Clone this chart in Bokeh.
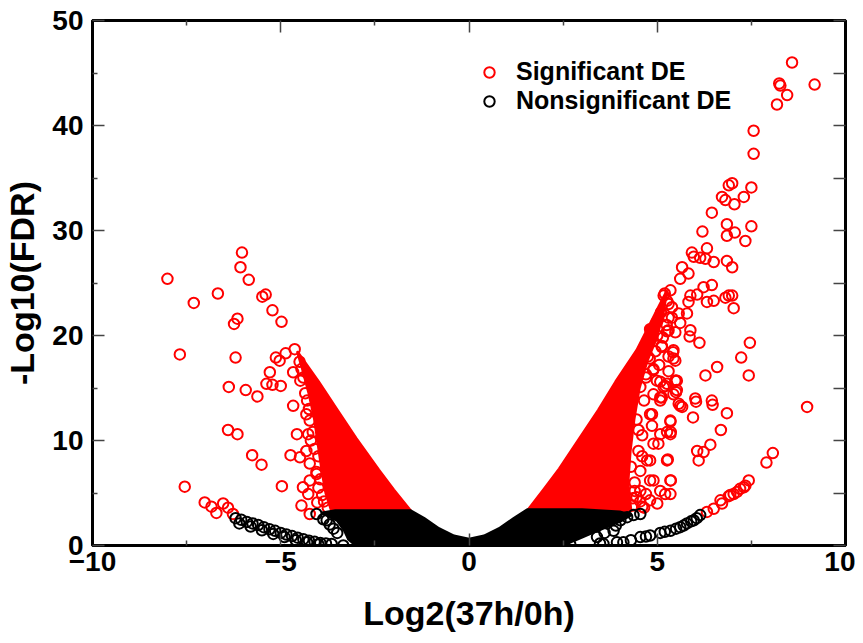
from bokeh.plotting import figure
from bokeh.models import LinearAxis, FixedTicker, Legend, LegendItem, Range1d
from bokeh.embed import file_html
from bokeh.resources import INLINE

FONT = "Liberation Sans"

x_ticks = [-10, -5, 0, 5, 10]
x_minor = [-7.5, -2.5, 2.5, 7.5]
y_ticks = [0, 10, 20, 30, 40, 50]
y_minor = [5, 15, 25, 35, 45]
y_right_ticks = [0, 5, 10, 15, 20, 25, 30, 35, 40, 45, 50]

# Significant DE (red) - individually visible points
sig_x = [
    -6.03, -6.07, -5.85, -8.01, -7.31, -6.67, -5.49, -5.40, -5.22, -4.98, -6.15, -6.24,
    -7.68, -6.2, -6.38, -5.93, -5.62, -5.29, -5.38, -5.22, -5.0, -5.13, -5.03, -4.87,
    -4.63, -4.67, -4.48, -4.67, -6.4, -6.15, -4.57, -5.76, -5.51, -4.74, -4.49, -7.55,
    -4.97, -7.02, -6.84, -6.71, -6.53, -6.4, -6.27, -4.41, -4.27, -4.03, -4.45, -4.23,
    -4.32, -4.23, -4.27, -4.32, -4.23, -4.05, -4.23,
    -4.5, -4.45, -4.4, -4.35, -4.3, -4.25, -4.15, -4.2, -4.1, -4.0, -4.05, -3.95, -4.0,
    -3.9, -3.85, -3.75,
    8.58, 8.24, 8.27, 9.18, 8.45, 8.18, 7.56, 7.56, 6.9, 6.99, 7.5, 7.3, 6.72, 6.81,
    7.05, 6.45, 7.5, 6.85, 6.85, 7.06, 7.34, 6.2, 6.32, 5.92, 5.97, 6.14, 6.28, 6.5,
    6.85, 6.99, 5.66, 5.83, 5.61, 6.45, 6.23, 5.35, 5.17, 5.88, 6.06, 6.9, 6.99,
    5.83, 6.32, 6.5, 6.81, 7.03, 5.79, 5.57, 5.61, 5.3, 5.39, 5.26, 5.48, 5.88, 5.86,
    6.12, 4.84, 4.99, 5.12, 5.42, 5.43, 4.89, 5.48, 5.52, 5.17, 4.99, 7.46, 7.23, 7.43,
    6.59, 6.28, 6.01, 6.45,
    5.5, 5.5, 5.08, 5.21, 5.12, 6.03, 5.66, 6.47, 6.85, 5.95, 8.98, 5.35, 4.86, 4.86,
    6.69, 5.08, 5.26, 5.36, 5.03, 6.41, 6.23, 6.06, 6.1, 8.07, 7.9, 5.28, 4.81, 5.36,
    4.81, 5.08, 5.21,
    6.32, 6.5, 6.72, 6.94, 7.12, 7.3, 7.43, 6.68, 6.9, 7.03, 7.2, 7.34,
    4.55, 4.9, 5.08, 4.81, 5.35, 5.35, 4.9, 5.26, 4.73, 4.55, 4.9, 5.35, 5.35, 4.55,
    4.81, 5.43, 5.61,
    5.26, 5.39, 4.81, 5.3, 5.12, 5.43, 5.48, 4.9, 5.26, 5.52, 5.08, 5.57,
    4.35, 4.45, 4.6, 4.7, 4.4, 4.5, 4.6, 4.45, 4.65, 4.7, 4.75, 5.0,
    5.2, 5.3, 5.1, 5.25, 5.0, 5.15, 4.95, 5.3, 4.8, 5.05, 4.7, 5.3,
    4.5, 4.3, 4.6, 4.4, 4.55, 4.35, 4.65,
]
sig_y = [
    27.9, 26.5, 25.3, 25.4, 23.1, 24.0, 23.7, 23.9, 22.4, 21.3, 21.6, 21.1,
    18.2, 17.9, 15.1, 14.8, 14.2, 16.5, 15.4, 15.3, 15.2, 17.9, 17.6, 18.3,
    18.7, 16.5, 15.7, 13.3, 11.0, 10.6, 10.6, 8.6, 7.7, 8.6, 8.4, 5.6,
    5.65, 4.1, 3.7, 3.1, 4.0, 3.6, 3.0, 5.55, 4.9, 4.1, 3.8, 3.0,
    12.5, 11.9, 10.6, 9.0, 7.8, 6.8, 6.2,
    17.5, 16.8, 16.0, 14.5, 13.8, 13.0, 10.8, 10.0, 9.2, 8.5, 7.0, 6.3, 5.5,
    4.8, 4.2, 3.6,
    46.0, 44.0, 43.8, 43.9, 42.9, 42.0, 39.5, 37.3, 34.3, 34.5, 34.1, 33.2, 33.2, 32.9,
    32.5, 31.7, 30.4, 30.6, 29.5, 29.8, 29.0, 29.9, 28.3, 27.9, 27.5, 27.4, 27.3, 27.0,
    27.1, 26.5, 26.5, 25.9, 25.4, 24.8, 24.6, 24.3, 23.8, 23.8, 23.9, 23.8, 23.8,
    23.2, 23.2, 23.3, 23.6, 22.6, 22.1, 22.1, 21.2, 21.7, 22.7, 20.4, 20.3, 20.5, 19.9,
    19.3, 20.6, 21.3, 19.0, 18.4, 17.8, 16.7, 15.7, 14.8, 15.1, 15.7, 19.3, 17.9, 16.2,
    17.0, 16.2, 14.0, 13.8,
    15.7, 14.6, 15.6, 15.2, 14.1, 13.7, 13.2, 13.4, 12.6, 12.2, 13.2, 11.8, 12.5, 11.4,
    11.0, 10.6, 10.8, 10.8, 9.7, 9.6, 8.9, 9.0, 8.1, 8.8, 7.9, 8.2, 8.1, 6.2,
    6.2, 5.2, 4.9,
    3.2, 3.5, 4.0, 4.8, 5.1, 5.55, 6.2, 4.3, 4.7, 4.9, 5.4, 5.7,
    15.1, 14.4, 13.8, 12.5, 11.9, 10.6, 9.7, 8.1, 8.1, 7.1, 6.2, 6.2, 4.9, 5.2,
    4.3, 14.4, 13.3,
    23.3, 21.7, 20.6, 20.5, 18.9, 18.6, 17.6, 16.8, 15.4, 15.7, 14.1, 13.5,
    3.8, 4.6, 3.7, 4.9, 6.0, 9.0, 10.5, 12.0, 13.8, 16.0, 18.0, 4.0,
    24.0, 23.0, 22.2, 21.0, 20.0, 19.8, 18.5, 18.0, 17.8, 17.2, 16.3, 16.6,
    11.0, 7.5, 8.5, 5.2, 4.2, 4.5, 3.6,
]

# Significant DE - dense overlapping cores (outline of the solid red masses)
sig_core_left_x = [-4.55, -4.0, -3.5, -3.0, -2.4, -2.0, -1.55, -3.65, -3.8, -3.9, -4.0, -4.1, -4.25, -4.42]
sig_core_left_y = [18.4, 15.6, 12.9, 10.2, 7.2, 5.3, 3.3, 3.3, 5.0, 7.0, 9.5, 12.0, 14.5, 16.8]
sig_core_right_x = [1.55, 2.0, 2.4, 2.9, 3.44, 3.9, 4.46, 4.8, 5.05, 5.25, 5.15, 4.95, 4.72, 4.52, 4.38, 4.28, 4.22, 4.3]
sig_core_right_y = [3.3, 5.4, 7.3, 10.0, 12.9, 15.6, 18.6, 21.0, 22.8, 24.2, 22.0, 19.5, 17.5, 15.0, 12.0, 9.0, 6.0, 3.3]

# Nonsignificant DE (black) - individually visible points
nonsig_x = [
    -6.2, -6.05, -5.9, -5.75, -5.6, -5.45, -5.3, -5.15, -5.0, -4.85, -4.7, -4.55, -4.4,
    -4.25, -4.1, -3.95, -3.8, -3.65,
    -6.1, -5.8, -5.5, -5.2, -4.9, -4.6, -4.3, -4.0,
    -4.05, -3.87, -3.78, -3.7, -3.6, -3.5,
    -3.34, -2.9, -2.1,
    2.69, 3.48, 3.57, 3.93, 4.10, 4.3, 4.55, 4.7, 4.81, 5.08, 5.2, 5.35, 5.5, 5.61, 5.7,
    5.79, 5.9, 5.97, 6.05, 6.14,
    3.66, 4.02, 4.37, 4.55, 3.84, 3.4, 4.2, 3.9, 3.6,
]
nonsig_y = [
    2.6, 2.45, 2.25, 2.1, 1.95, 1.75, 1.55, 1.4, 1.2, 1.05, 0.9, 0.75, 0.6,
    0.45, 0.35, 0.25, 0.2, 0.15,
    2.1, 1.8, 1.45, 1.1, 0.8, 0.5, 0.3, 0.1,
    3.0, 2.5, 2.4, 2.0, 1.6, 1.2,
    0.0, 0.05, 0.05,
    0.1, 0.2, 0.16, 0.3, 0.3, 0.5, 0.8, 0.85, 0.95, 1.2, 1.3, 1.4, 1.6, 1.75, 1.9,
    2.1, 2.3, 2.4, 2.6, 2.9,
    2.1, 2.4, 2.9, 3.0, 1.4, 0.8, 2.7, 1.9, 1.2,
]

# Nonsignificant DE - dense overlapping core (outline of the solid black mass)
nonsig_core_x = [-3.9, -3.55, -1.55, -1.2, -0.8, -0.4, 0.0, 0.4, 0.8, 1.2, 1.55, 3.0, 4.0, 4.3,
                 4.0, 3.6, 3.2, 2.8, 2.5, -3.0, -3.2, -3.3, -3.5]
nonsig_core_y = [3.1, 3.3, 3.3, 2.6, 1.6, 0.9, 0.6, 0.9, 1.6, 2.6, 3.4, 3.4, 3.2, 2.9,
                 2.3, 1.7, 1.1, 0.5, 0.0, 0.0, 0.6, 1.4, 2.4]

p = figure(width=855, height=635, x_range=Range1d(-10, 10), y_range=Range1d(0, 50),
           output_backend="svg", toolbar_location=None,
           min_border_left=85, min_border_right=10, min_border_top=20, min_border_bottom=90)
p.xgrid.visible = False
p.ygrid.visible = False
p.outline_line_color = "black"
p.outline_line_width = 3
p.background_fill_color = "white"
p.border_fill_color = "white"

RED = "#ff0000"
BLACK = "#000000"

p.patch(sig_core_left_x, sig_core_left_y, fill_color=RED, line_color=RED, line_width=3,
        line_join="round")
p.patch(sig_core_right_x, sig_core_right_y, fill_color=RED, line_color=RED, line_width=3,
        line_join="round")
r_sig = p.scatter(sig_x, sig_y, marker="circle", size=10.5, fill_color=None,
                  line_color=RED, line_width=2)
p.patch(nonsig_core_x, nonsig_core_y, fill_color=BLACK, line_color=BLACK, line_width=3,
        line_join="round")
r_non = p.scatter(nonsig_x, nonsig_y, marker="circle", size=10.5, fill_color=None,
                  line_color=BLACK, line_width=2)


def style_axis(ax, major, minor, maj_len=12, min_len=5):
    ax.ticker = FixedTicker(ticks=major, minor_ticks=minor)
    ax.axis_line_width = 3
    ax.axis_line_color = "black"
    ax.major_tick_in = maj_len
    ax.major_tick_out = 0
    ax.minor_tick_in = min_len
    ax.minor_tick_out = 0
    ax.major_tick_line_color = "#444444"
    ax.minor_tick_line_color = "#444444"
    ax.major_tick_line_width = 1.5
    ax.minor_tick_line_width = 1.5
    ax.major_label_text_font = FONT
    ax.major_label_text_font_style = "bold"
    ax.major_label_text_font_size = "28px"
    ax.major_label_text_color = "black"
    ax.axis_label_text_font = FONT
    ax.axis_label_text_font_style = "bold"
    ax.axis_label_text_font_size = "34px"
    ax.axis_label_text_color = "black"


style_axis(p.xaxis[0], x_ticks, x_minor)
p.xaxis[0].axis_label = "Log2(37h/0h)"
p.xaxis[0].major_label_standoff = 6
p.xaxis[0].axis_label_standoff = 20
style_axis(p.yaxis[0], y_ticks, y_minor)
p.yaxis[0].axis_label = "-Log10(FDR)"
p.yaxis[0].major_label_standoff = 9
p.yaxis[0].axis_label_standoff = 8

top = LinearAxis()
style_axis(top, x_ticks, x_minor)
top.major_label_overrides = {t: "" for t in x_ticks}
top.major_label_text_font_size = "0px"
top.major_label_standoff = 0
p.add_layout(top, "above")

right = LinearAxis()
style_axis(right, y_right_ticks, [])
right.major_label_overrides = {t: "" for t in y_right_ticks}
right.major_label_text_font_size = "0px"
right.major_label_standoff = 0
p.add_layout(right, "right")

legend = Legend(items=[LegendItem(label="Significant DE", renderers=[r_sig]),
                       LegendItem(label="Nonsignificant DE", renderers=[r_non])],
                location=(384, 430), orientation="vertical",
                glyph_width=26, glyph_height=28, label_height=28, spacing=0,
                padding=0, margin=0, label_standoff=14,
                border_line_color=None, background_fill_alpha=0,
                label_text_font=FONT, label_text_font_style="bold",
                label_text_font_size="25px", label_text_color="black")
p.add_layout(legend)

open("out.html", "w").write(file_html(p, INLINE))
